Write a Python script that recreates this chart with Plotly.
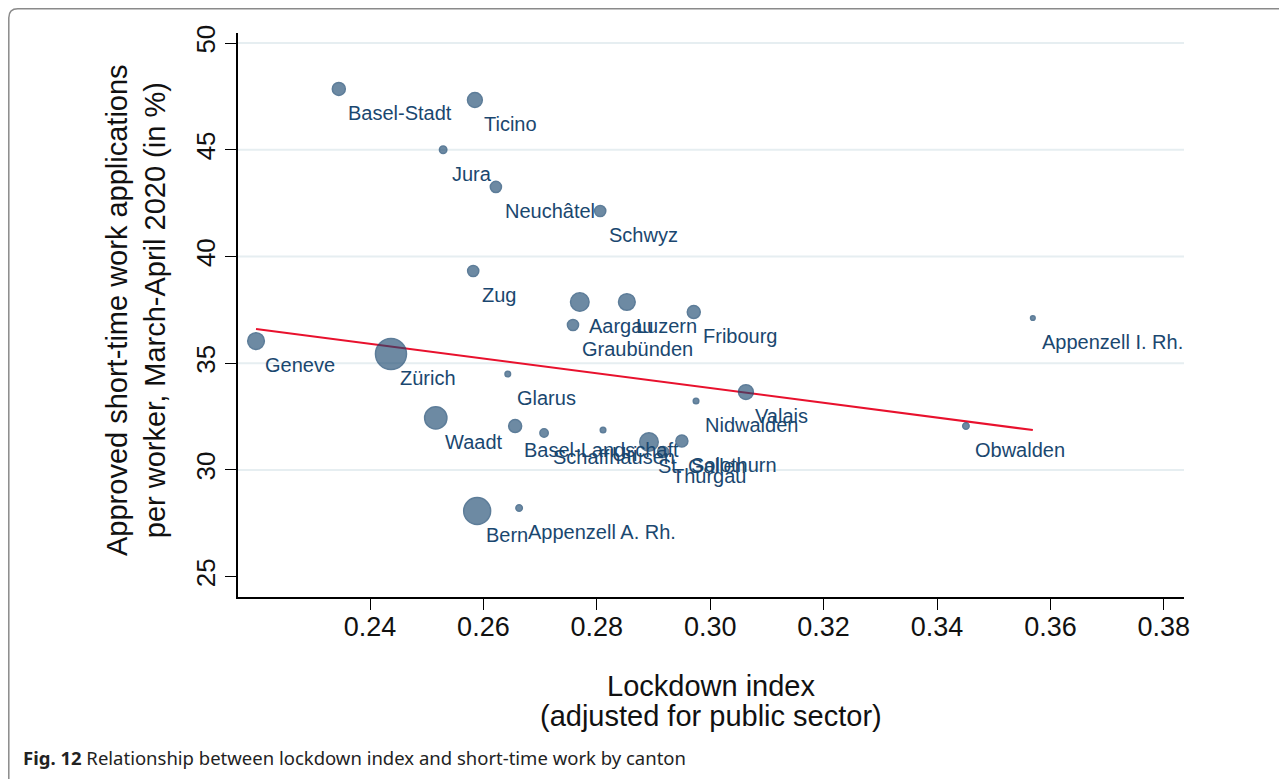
import numpy as np
import plotly.graph_objects as go

# ---- data ----
cantons = ["Basel-Stadt", "Ticino", "Jura", "Neuchâtel", "Schwyz", "Zug", "Aargau",
           "Luzern", "Graubünden", "Fribourg", "Appenzell I. Rh.", "Geneve", "Zürich",
           "Glarus", "Valais", "Nidwalden", "Obwalden", "Waadt", "Basel-Landschaft",
           "Schaffhausen", "Uri", "St. Gallen", "Thurgau", "Solothurn", "Bern",
           "Appenzell A. Rh."]
lockdown = [0.2345, 0.2585, 0.2529, 0.2622, 0.2806, 0.2582, 0.2770,
            0.2853, 0.2758, 0.2971, 0.3569, 0.2199, 0.2437,
            0.2643, 0.3063, 0.2975, 0.3451, 0.2516, 0.2656,
            0.2707, 0.2811, 0.2892, 0.2917, 0.2950, 0.2589,
            0.2663]
stw = [47.85, 47.33, 45.00, 43.26, 42.13, 39.32, 37.87,
       37.87, 36.79, 37.40, 37.12, 36.04, 35.43,
       34.50, 33.65, 33.23, 32.06, 32.44, 32.06,
       31.73, 31.87, 31.31, 30.84, 31.36, 28.08,
       28.22]
# weights (employment, thousands) -> marker area
weights = [157, 205, 51, 115, 115, 115, 320,
           259, 115, 157, 20, 259, 892,
           29, 205, 29, 39, 461, 157,
           65, 29, 320, 115, 135, 673,
           39]
fit_x = [0.2199, 0.3569]
fit_y = [36.60, 31.87]
x_ticks = [0.24, 0.26, 0.28, 0.30, 0.32, 0.34, 0.36, 0.38]
x_ticklabels = ["0.24", "0.26", "0.28", "0.30", "0.32", "0.34", "0.36", "0.38"]
y_ticks = [25, 30, 35, 40, 45, 50]
y_grid = [30, 35, 40, 45, 50]

NAVY = "#1a476f"
FONT = "Liberation Sans, Arial, Helvetica, sans-serif"
w = np.array(weights, dtype=float)
diam = 31.0 * np.sqrt(w / w.max())

fig = go.Figure()
fig.add_trace(go.Scatter(x=fit_x, y=fit_y, mode="lines",
                         line=dict(color="#e8112d", width=2), hoverinfo="skip"))
fig.add_trace(go.Scatter(x=lockdown, y=stw, mode="markers", text=cantons,
                         marker=dict(size=diam, color="rgba(26,71,111,0.9)",
                                     line=dict(color=NAVY, width=1.5))))

for name, xv, yv in zip(cantons, lockdown, stw):
    fig.add_annotation(x=xv, y=yv, text=name, showarrow=False,
                       xanchor="left", yanchor="middle", xshift=7, yshift=-24,
                       font=dict(family=FONT, size=20, color=NAVY))

for gv in y_grid:
    fig.add_shape(type="line", xref="paper", yref="y", x0=0, x1=1, y0=gv, y1=gv,
                  layer="below", line=dict(color="#e6eef1", width=2))

OFF = 8  # page body margin
L, R, T, B = 230, 103, 25, 182
W, H = 1279, 771
pw, ph = W - L - R, H - T - B

fig.update_layout(
    width=W, height=H, showlegend=False,
    paper_bgcolor="white", plot_bgcolor="white",
    margin=dict(l=L, r=R, t=T, b=B),
    font=dict(family=FONT, color="black"),
)
fig.update_xaxes(range=[0.21672, 0.38356], tickvals=x_ticks, ticktext=x_ticklabels,
                 showgrid=False, zeroline=False, showline=True, linecolor="black",
                 linewidth=1.5, ticks="outside", ticklen=11, tickwidth=1.2,
                 tickcolor="black", ticklabelstandoff=-6,
                 tickfont=dict(family=FONT, size=27, color="#111"))
fig.update_yaxes(range=[24.05, 50.47], tickvals=y_ticks, tickangle=-90,
                 showgrid=False, zeroline=False,
                 showline=True, linecolor="black", linewidth=1.5, ticks="outside",
                 ticklen=11, tickwidth=1.2, tickcolor="black",
                 tickfont=dict(family=FONT, size=26, color="#111"))

def px_x(p):
    return (p - OFF - L) / pw

def px_y(p):
    return (H - B - (p - OFF)) / ph

# axis titles
fig.add_annotation(xref="paper", yref="paper", x=px_x(136), y=px_y(310),
                   text="Approved short-time work applications<br>per worker, March-April 2020 (in %)",
                   textangle=-90, showarrow=False, xanchor="center", yanchor="middle",
                   font=dict(family=FONT, size=29, color="#111"))
fig.add_annotation(xref="paper", yref="paper", x=px_x(711), y=px_y(686),
                   text="Lockdown index", showarrow=False,
                   xanchor="center", yanchor="middle",
                   font=dict(family=FONT, size=29, color="#111"))
fig.add_annotation(xref="paper", yref="paper", x=px_x(711), y=px_y(716),
                   text="(adjusted for public sector)", showarrow=False,
                   xanchor="center", yanchor="middle",
                   font=dict(family=FONT, size=29, color="#111"))
# caption
fig.add_annotation(xref="paper", yref="paper", x=px_x(21), y=px_y(757),
                   text="<b>Fig. 12</b> Relationship between lockdown index and short-time work by canton",
                   showarrow=False, xanchor="left", yanchor="middle",
                   font=dict(family="Noto Sans", size=18.5, color="#222"))

# outer frame with rounded top-left corner
x0, x1 = px_x(8.8), px_x(1300)
yt, yb = px_y(8.8), px_y(800)
dx, dy = 9 / pw, 9 / ph
path = (f"M {x0},{yb} L {x0},{yt - dy} Q {x0},{yt} {x0 + dx},{yt} L {x1},{yt}")
fig.add_shape(type="path", xref="paper", yref="paper", path=path,
              line=dict(color="#8a8a8a", width=1.5))

fig.write_html("out.html")
